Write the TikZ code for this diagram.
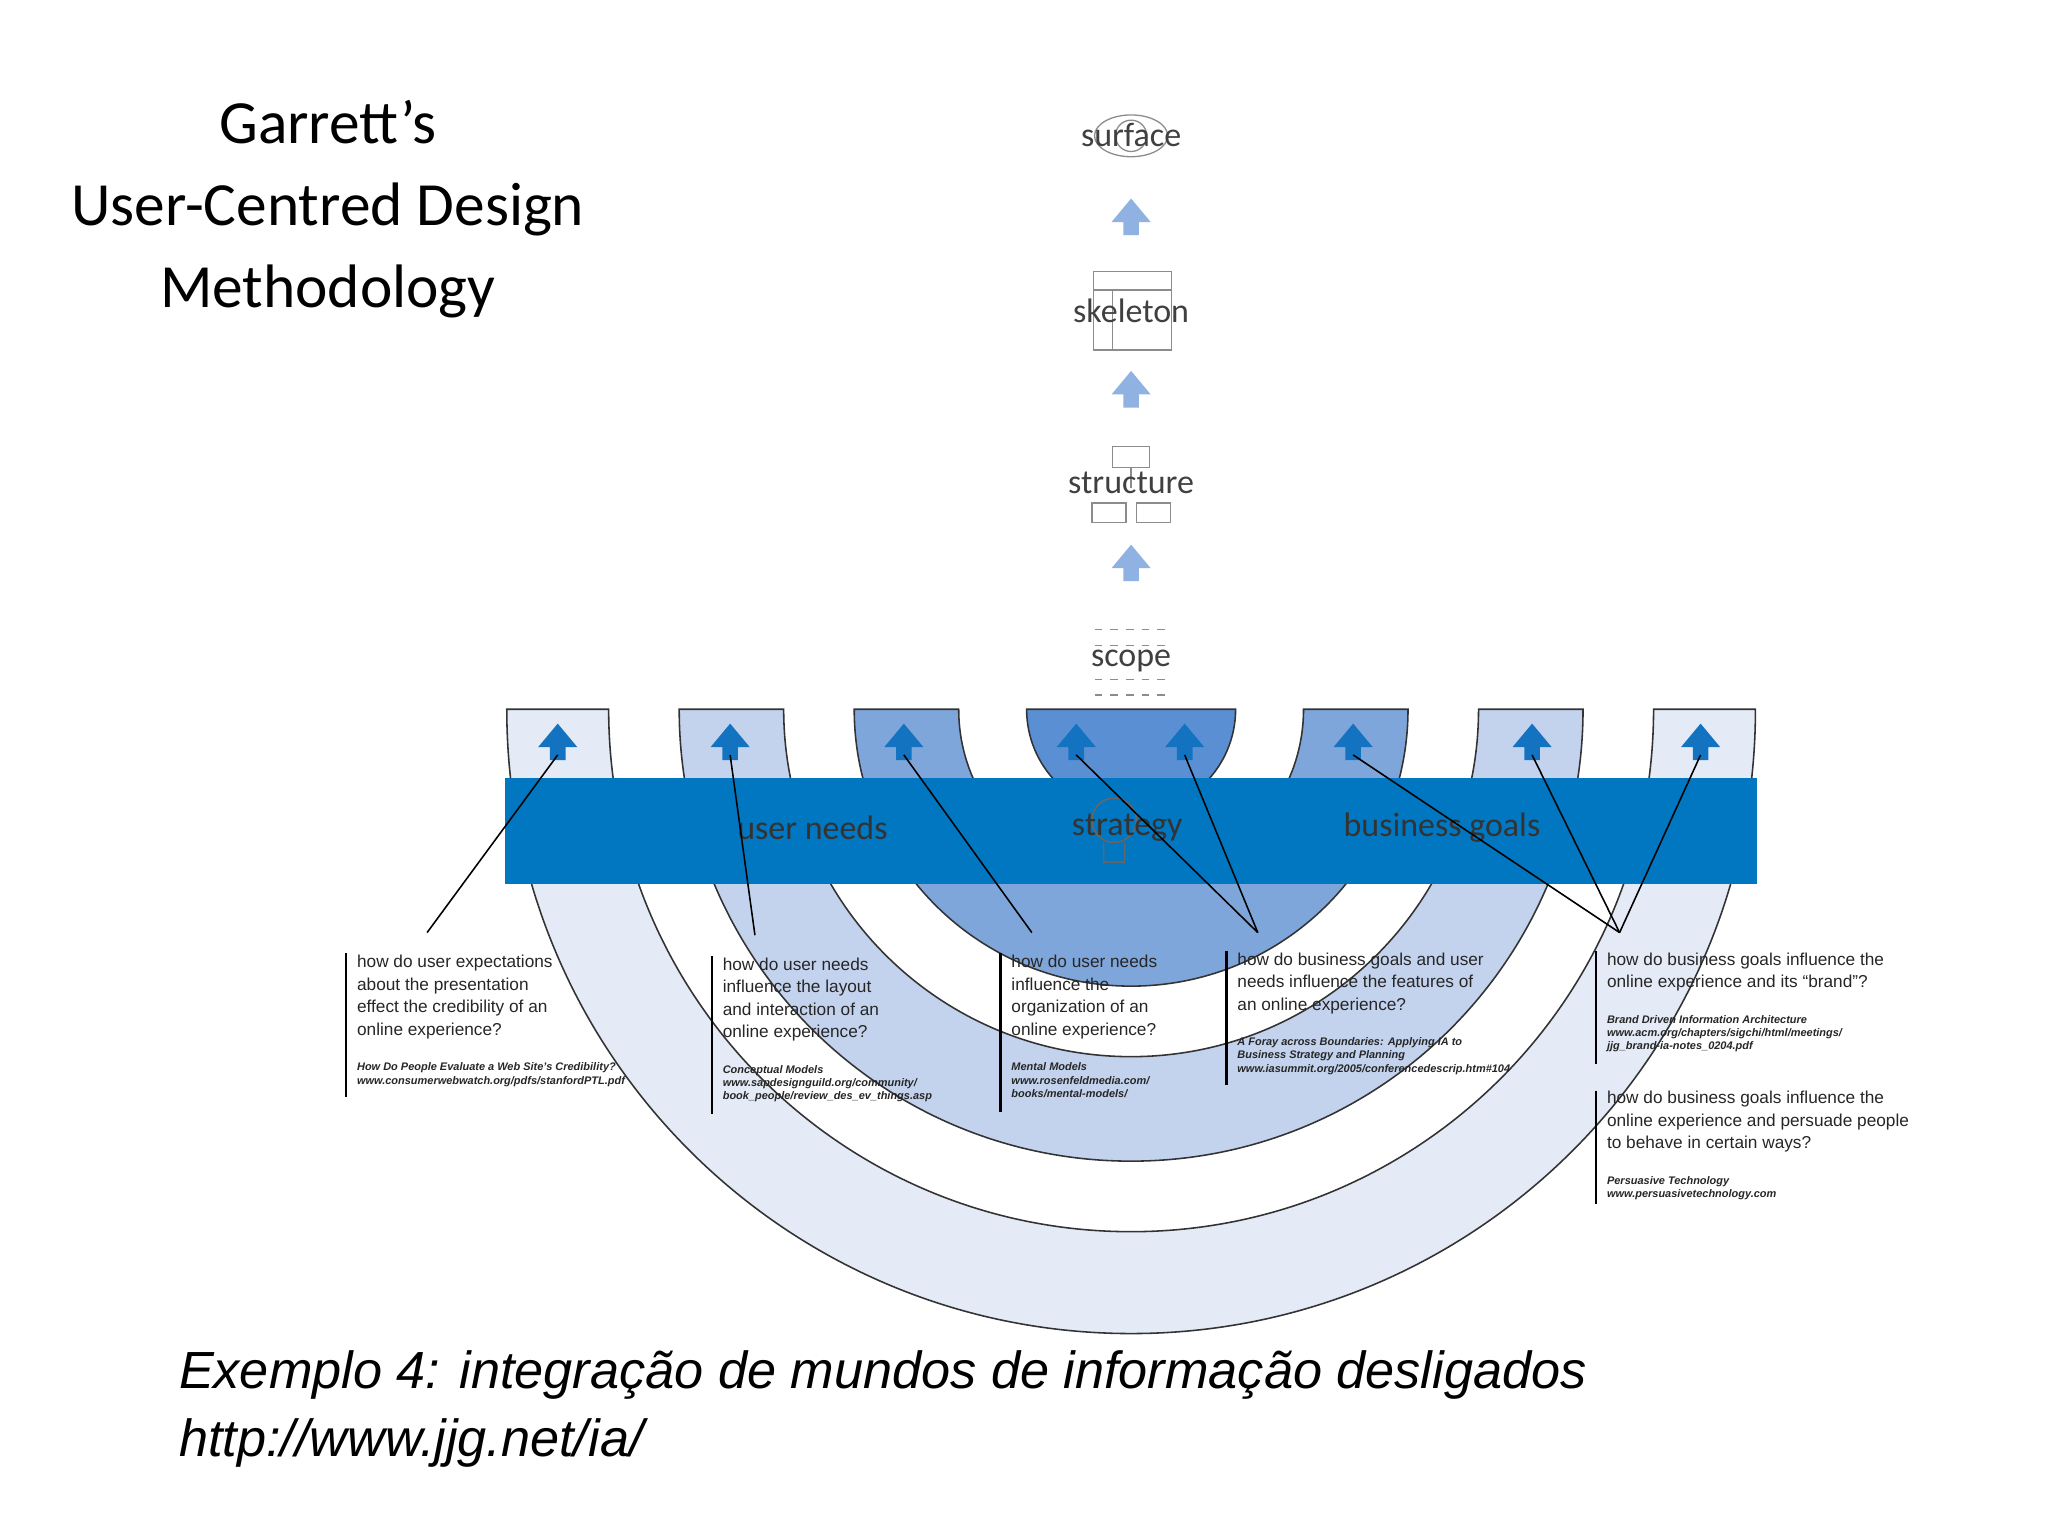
\documentclass[tikz,border=0pt]{standalone}
\usepackage{fontspec}
\setmainfont{Liberation Sans}
\newfontfamily\carlfont{Carlito}
\newcommand\reff{\fontsize{4.2}{5}\selectfont\bfseries\itshape}
\begin{document}
\begin{tikzpicture}[x=0.5pt,y=-0.5pt,
  sm/.style={anchor=north west,align=left,font=\fontsize{6.6}{8.6}\selectfont,text=black!85,inner sep=0},
  vl/.style={line width=0.8pt},
  cn/.style={line width=0.6pt},
  lab/.style={font=\carlfont\fontsize{13}{13}\selectfont,text=black!75},
  ico/.style={draw=black!45,line width=0.5pt},
  pics/uparr/.style={code={\fill[#1] (-15,0)--(0,-18)--(15,0)--(6,0)--(6,10)--(-6,10)--(-6,0)--cycle;}}]
\definecolor{c1}{HTML}{E4EAF6}\definecolor{c2}{HTML}{C3D3EE}
\definecolor{c3}{HTML}{7FA6DA}\definecolor{c4}{HTML}{5B8FD3}
\definecolor{bar}{HTML}{0077C0}\definecolor{la}{HTML}{8FB2E2}
\definecolor{da}{HTML}{1473C0}
\useasboundingbox (0,0) rectangle (1568,1176);
% arcs
\fill[c1,draw=black!80,line width=0.6pt] (388,543) arc[start angle=180,end angle=0,radius=478] -- (1266,543) arc[start angle=0,end angle=180,radius=400] -- cycle;
\fill[c2,draw=black!80,line width=0.6pt] (520,543) arc[start angle=180,end angle=0,radius=346] -- (1132,543) arc[start angle=0,end angle=180,radius=266] -- cycle;
\fill[c3,draw=black!80,line width=0.6pt] (654,543) arc[start angle=180,end angle=0,radius=212] -- (998,543) arc[start angle=0,end angle=180,radius=132] -- cycle;
\fill[c4,draw=black!80,line width=0.6pt] (786,543) arc[start angle=180,end angle=0,radius=80] -- cycle;
% icons
\draw[ico] (866,104) ellipse (28 and 16); \draw[ico] (866,104) ellipse (12 and 12);
\draw[ico] (837,208) rectangle (897,268); \draw[ico] (837,222)--(897,222); \draw[ico] (852,222)--(852,268);
\draw[ico] (852,342) rectangle (880,358); \draw[ico] (866,358)--(866,374);
\draw[ico] (836,385) rectangle (862,400); \draw[ico] (870,385) rectangle (896,400);
\foreach \y in {482,494,520,532} \draw[ico,dashed] (838,\y)--(896,\y);
% middle arrows
\foreach \y in {170,302,435} \pic at (866,\y) {uparr=la};
% labels
\node[lab] (surf) at (866,103) {surface};
\node[lab] (skel) at (866,238) {skeleton};
\node[lab] (struc) at (866,370) {structure};
\node[lab] (scope) at (866,506) {scope};
% bar
\fill[bar] (387,596) rectangle (1345,677);
\draw[black!60,line width=0.6pt] (853,628) circle (17) (845,645)--(845,660)--(861,660)--(861,645);
\node[lab,text=black!80] (un) at (622,634) {user needs};
\node[lab,text=black!80] (st) at (863,634) {strategy};
\node[lab,text=black!80] (bg) at (1104,634) {business goals};
% bottom arrows
\foreach \n/\x in {a1/427,a2/559,a3/692,a4/824,a5/907,a6/1036,a7/1173,a8/1302} {
  \pic at (\x,572) {uparr=da}; \coordinate (\n) at (\x,578);}
\coordinate (t1) at (327,714); \coordinate (t2) at (578,716); \coordinate (t3) at (790,714);
\coordinate (t4) at (963,714); \coordinate (t5) at (1240,714);
\draw[cn] (a1)--(t1); \draw[cn] (a2)--(t2); \draw[cn] (a3)--(t3);
\draw[cn] (a4)--(t4); \draw[cn] (a5)--(t4);
\draw[cn] (a6)--(t5); \draw[cn] (a7)--(t5); \draw[cn] (a8)--(t5);
% text blocks
\draw[vl] (265,730)--(265,840); \draw[vl] (545,732)--(545,853); \draw[vl] (766,730)--(766,851);
\draw[vl] (939,728)--(939,831); \draw[vl] (1222,728)--(1222,815); \draw[vl] (1222,835)--(1222,922);
\node[sm] (q1) at (273,731) {how do user expectations\\about the presentation\\effect the credibility of an\\online experience?\\[5pt]{\reff How Do People Evaluate a Web Site's Credibility?}\\[-3.5pt]{\reff www.consumerwebwatch.org/pdfs/stanfordPTL.pdf}};
\node[sm] (q2) at (553,733) {how do user needs\\influence the layout\\and interaction of an\\online experience?\\[5pt]{\reff Conceptual Models}\\[-3.5pt]{\reff www.sapdesignguild.org/community/}\\[-3.5pt]{\reff book\_people/review\_des\_ev\_things.asp}};
\node[sm] (q3) at (774,731) {how do user needs\\influence the\\organization of an\\online experience?\\[5pt]{\reff Mental Models}\\[-3.5pt]{\reff www.rosenfeldmedia.com/}\\[-3.5pt]{\reff books/mental-models/}};
\node[sm] (q4) at (947,729) {how do business goals and user\\needs influence the features of\\an online experience?\\[5pt]{\reff A Foray across Boundaries: Applying IA to}\\[-3.5pt]{\reff Business Strategy and Planning}\\[-3.5pt]{\reff www.iasummit.org/2005/conferencedescrip.htm\#104}};
\node[sm] (q5) at (1230,729) {how do business goals influence the\\online experience and its ``brand''?\\[5pt]{\reff Brand Driven Information Architecture}\\[-3.5pt]{\reff www.acm.org/chapters/sigchi/html/meetings/}\\[-3.5pt]{\reff jjg\_brand-ia-notes\_0204.pdf}};
\node[sm] (q6) at (1230,835) {how do business goals influence the\\online experience and persuade people\\to behave in certain ways?\\[5pt]{\reff Persuasive Technology}\\[-3.5pt]{\reff www.persuasivetechnology.com}};
% title
\node[font=\carlfont\fontsize{23.5}{31.5}\selectfont,align=center] (title) at (251,160) {Garrett’s\\User-Centred Design\\Methodology};
\node[anchor=west,align=left,font=\itshape\fontsize{20}{26}\selectfont] (cap) at (130,1079) {Exemplo 4: integração de mundos de informação desligados\\http://www.jjg.net/ia/};
\end{tikzpicture}
\end{document}
